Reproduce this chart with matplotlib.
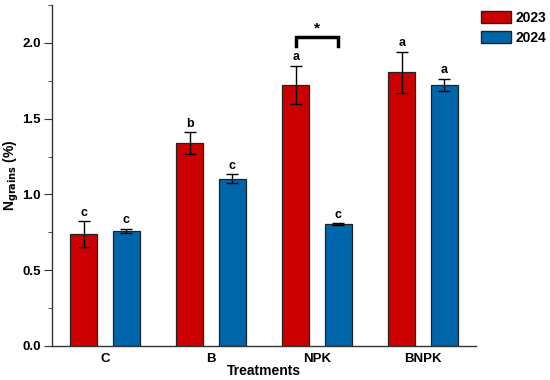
import numpy as np
import matplotlib.pyplot as plt
from matplotlib.patches import Patch

plt.rcParams['font.family'] = ['Liberation Sans', 'DejaVu Sans']
plt.rcParams['font.weight'] = 'bold'

treatments = ['C', 'B', 'NPK', 'BNPK']
years = ['2023', '2024']
n_2023 = [0.738, 1.337, 1.724, 1.805]
err_2023 = [0.087, 0.073, 0.126, 0.138]
n_2024 = [0.760, 1.104, 0.804, 1.724]
err_2024 = [0.015, 0.030, 0.006, 0.040]
letters_2023 = ['c', 'b', 'a', 'a']
letters_2024 = ['c', 'c', 'c', 'a']

red = '#CC0000'
blue = '#0066AA'

fig = plt.figure(figsize=(5.5, 3.8), dpi=100)
ax = fig.add_axes([0.0945, 0.0895, 0.771, 0.8973])

x = np.arange(len(treatments))
w = 0.255
off = 0.2
ax.bar(x - off, n_2023, w, color=red, edgecolor='#222222', linewidth=0.9)
ax.bar(x + off, n_2024, w, color=blue, edgecolor='#222222', linewidth=0.9)
ax.errorbar(x - off, n_2023, yerr=err_2023, fmt='none', ecolor='black',
            elinewidth=1.0, capsize=4.5, capthick=1.0)
ax.errorbar(x + off, n_2024, yerr=err_2024, fmt='none', ecolor='black',
            elinewidth=1.0, capsize=4.5, capthick=1.0)

for i in range(len(treatments)):
    ax.text(x[i] - off, n_2023[i] + err_2023[i] + 0.015, letters_2023[i],
            ha='center', va='bottom', fontsize=9, fontweight='bold')
    ax.text(x[i] + off, n_2024[i] + err_2024[i] + 0.015, letters_2024[i],
            ha='center', va='bottom', fontsize=9, fontweight='bold')

# significance bracket over NPK
ax.plot([x[2] - off, x[2] - off, x[2] + off, x[2] + off],
        [1.977, 2.036, 2.036, 1.977], color='black', linewidth=2.5,
        solid_joinstyle='miter')
ax.text(x[2], 2.05, '*', ha='center', va='bottom', fontsize=11, fontweight='bold')

ax.set_xlim(-0.5, 3.5)
ax.set_ylim(0, 2.25)
ax.set_xticks(x)
ax.set_xticklabels(treatments, fontsize=9.5, fontweight='bold')
ax.tick_params(axis='x', length=0, pad=5)
ax.set_yticks([0, 0.5, 1.0, 1.5, 2.0])
ax.set_yticklabels(['0.0', '0.5', '1.0', '1.5', '2.0'], fontsize=9.5, fontweight='bold')
ax.set_yticks(np.arange(0.25, 2.3, 0.5), minor=True)
ax.tick_params(axis='y', which='major', length=6, direction='out', color='#333333', pad=2)
ax.tick_params(axis='y', which='minor', length=3, direction='out', color='#333333')

for s in ['top', 'right']:
    ax.spines[s].set_visible(False)
for s in ['left', 'bottom']:
    ax.spines[s].set_color('#333333')
    ax.spines[s].set_linewidth(1.0)

ax.set_xlabel('Treatments', fontsize=10, fontweight='bold', labelpad=-1)
ax.set_ylabel(r'N$_{\mathbf{grains}}$ (%)', fontsize=10, fontweight='bold', labelpad=1)

handles = [Patch(facecolor=red, edgecolor='#222222'), Patch(facecolor=blue, edgecolor='#222222')]
fig.legend(handles, years, loc='upper left', bbox_to_anchor=(0.874, 0.972),
           frameon=False, handlelength=2.15, handleheight=1.0,
           handletextpad=0.35, labelspacing=0.45, borderaxespad=0, borderpad=0,
           prop={'weight': 'bold', 'size': 10})

fig.savefig('out.png', dpi=100)
